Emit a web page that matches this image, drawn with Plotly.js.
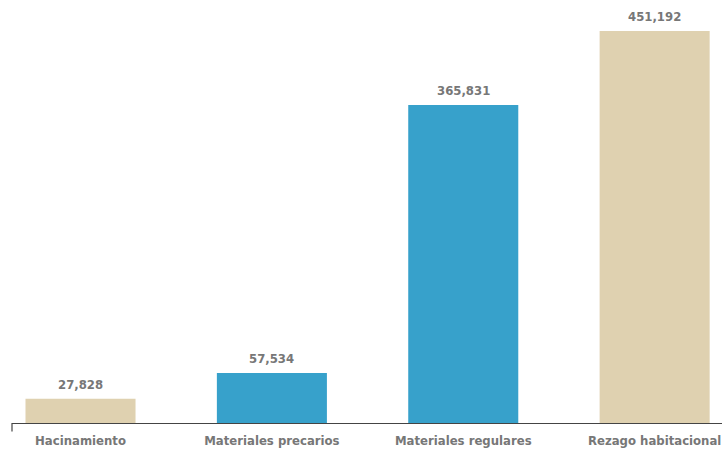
<!DOCTYPE html>
<html><head><meta charset="utf-8">
<script src="https://cdn.plot.ly/plotly-3.0.1.min.js"></script>
<style>body{margin:0;background:#fff}#chart{width:722px;height:452px}</style>
</head><body><div id="chart"></div>
<script>
const categories = ["Hacinamiento", "Materiales precarios", "Materiales regulares", "Rezago habitacional"];
const values = [27828, 57534, 365831, 451192];
const colors = ["#DFD1B0", "#37A1CB", "#37A1CB", "#DFD1B0"];
const labels = values.map(v => v.toLocaleString("en-US"));

const FONT = "DejaVu Sans Condensed, Liberation Sans Narrow, sans-serif";

const trace = {
  type: "bar",
  x: categories,
  y: values,
  width: 0.575,
  marker: {color: colors, line: {width: 0}},
  hoverinfo: "none"
};

const annotations = categories.map((c, i) => ({
  x: c, y: values[i], xref: "x", yref: "y",
  text: labels[i], showarrow: false,
  yanchor: "bottom", yshift: 5,
  font: {family: FONT, size: 13, color: "#777777", weight: "bold"}
}));

const layout = {
  width: 722, height: 452,
  margin: {l: 12, r: 0, t: 0, b: 28.5},
  paper_bgcolor: "#fff", plot_bgcolor: "#fff",
  showlegend: false,
  xaxis: {
    type: "category",
    range: [-0.358, 3.352],
    showline: true, linecolor: "#444", linewidth: 1.2,
    ticks: "", showgrid: false, zeroline: false,
    tickfont: {family: FONT, size: 13, color: "#777777", weight: "bold"},
    ticklabelstandoff: 5
  },
  yaxis: {range: [0, 486800], visible: false, showgrid: false, zeroline: false, fixedrange: true},
  annotations: annotations,
  shapes: [{type: "line", xref: "paper", yref: "paper", x0: 0, x1: 0, y0: 0, y1: -0.02, line: {color: "#444", width: 1.2}}]
};

Plotly.newPlot("chart", [trace], layout, {displayModeBar: false, staticPlot: true});
</script></body></html>
